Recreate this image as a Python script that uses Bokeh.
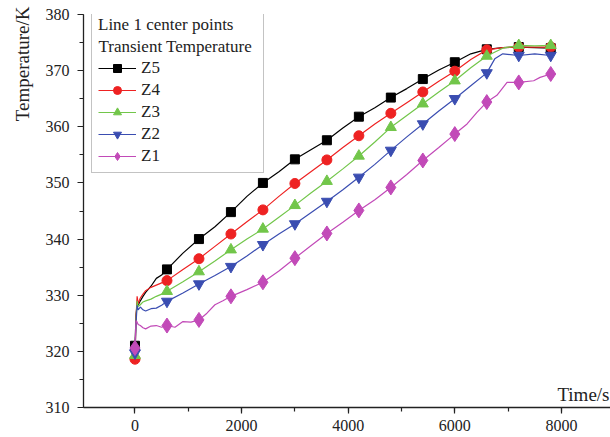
from bokeh.plotting import figure
from bokeh.models import (Legend, LegendItem, Label, Title, SingleIntervalTicker,
                          Range1d)
from bokeh.embed import file_html
from bokeh.resources import INLINE

# ---------------- data ----------------
series_names = ["Z5", "Z4", "Z3", "Z2", "Z1"]

t_line = [0, 20, 40, 60, 100, 150, 200, 300, 400, 500, 600, 900, 1200, 1500, 1800,
          2100, 2400, 2700, 3000, 3300, 3600, 3900, 4200, 4500, 4800, 5100, 5400,
          5700, 6000, 6300, 6600, 6900, 7200, 7500, 7800]

z5_line = [321.0, 326.5, 328.5, 328.2, 329.0, 329.8, 330.5, 331.6, 333.0, 333.6, 334.6,
           337.5, 340.0, 342.2, 344.8, 347.6, 350.0, 352.0, 354.2, 355.9, 357.6, 359.8,
           361.8, 363.4, 365.2, 366.8, 368.5, 370.1, 371.5, 373.0, 373.8, 374.1, 374.2,
           374.1, 374.0]
z4_line = [318.6, 326.0, 329.8, 328.5, 329.5, 330.2, 330.8, 331.4, 331.8, 332.2, 332.6,
           334.6, 336.5, 338.7, 340.9, 343.1, 345.2, 347.6, 349.9, 352.0, 354.1, 356.3,
           358.4, 360.5, 362.4, 364.3, 366.2, 368.1, 369.9, 372.0, 373.7, 374.1, 374.2,
           374.2, 374.2]
z3_line = [319.3, 325.5, 329.0, 328.0, 328.3, 328.8, 329.0, 329.3, 329.8, 330.2, 330.7,
           332.4, 334.2, 336.1, 338.1, 340.0, 341.8, 343.9, 346.0, 348.2, 350.3, 352.5,
           354.8, 357.3, 359.9, 362.0, 364.1, 366.2, 368.2, 370.5, 372.6, 374.0, 374.5,
           374.4, 374.5]
t_line_z2 = [0, 20, 40, 60, 100, 150, 200, 300, 400, 500, 600, 900, 1200, 1500, 1800,
             2100, 2400, 2700, 3000, 3300, 3600, 3900, 4200, 4500, 4800, 5100, 5400,
             5700, 6000, 6300, 6600, 6750, 6900, 7200, 7500, 7800]
z2_line = [319.7, 325.0, 328.2, 327.4, 327.9, 327.4, 327.2, 327.6, 327.7, 328.2, 328.9,
           330.4, 332.0, 333.5, 335.1, 337.0, 339.0, 340.9, 342.7, 344.7, 346.7, 348.8,
           351.0, 353.3, 355.8, 358.2, 360.5, 362.8, 365.0, 367.3, 369.6, 372.1, 373.0,
           372.7, 373.0, 372.7]
t_line_z1 = [0, 20, 40, 60, 100, 150, 200, 300, 400, 500, 600, 750, 900, 1050, 1200,
             1350, 1500, 1650, 1800, 2100, 2400, 2700, 3000, 3300, 3600, 3900, 4200,
             4500, 4800, 5100, 5400, 5700, 6000, 6230, 6420, 6600, 6790, 6980, 7200,
             7480, 7600, 7800]
z1_line = [320.6, 325.5, 325.2, 324.8, 324.6, 324.2, 324.0, 324.5, 324.6, 324.3, 324.6,
           324.3, 325.3, 325.2, 325.6, 326.8, 328.3, 329.0, 329.8, 331.0, 332.3, 334.3,
           336.6, 338.8, 341.0, 343.0, 345.1, 347.0, 349.2, 351.5, 354.0, 356.3, 358.7,
           360.5, 362.6, 364.4, 365.6, 367.9, 367.9, 368.2, 368.8, 369.4]

t_mark = [0, 600, 1200, 1800, 2400, 3000, 3600, 4200, 4800, 5400, 6000, 6600, 7200, 7800]
z5_mark = [321.0, 334.6, 340.0, 344.8, 350.0, 354.2, 357.6, 361.8, 365.2, 368.5, 371.5,
           373.8, 374.2, 374.0]
z4_mark = [318.6, 332.6, 336.5, 340.9, 345.2, 349.9, 354.1, 358.4, 362.4, 366.2, 369.9,
           373.7, 374.2, 374.2]
z3_mark = [319.3, 330.7, 334.2, 338.1, 341.8, 346.0, 350.3, 354.8, 359.9, 364.1, 368.2,
           372.6, 374.5, 374.5]
z2_mark = [319.7, 328.9, 332.0, 335.1, 339.0, 342.7, 346.7, 351.0, 355.8, 360.5, 365.0,
           369.6, 372.7, 372.7]
z1_mark = [320.6, 324.6, 325.6, 329.8, 332.3, 336.6, 341.0, 345.1, 349.2, 354.0, 358.7,
           364.4, 367.9, 369.4]

legend_title_1 = "Line 1 center points"
legend_title_2 = "Transient Temperature"
x_label = "Time/s"
y_label = "Temperature/K"

# ---------------- styles ----------------
FONT = "Liberation Serif"
colors = {"Z5": "#000000", "Z4": "#ee2222", "Z3": "#72c64a", "Z2": "#3a4db1", "Z1": "#c24ab8"}
markers = {"Z5": "square", "Z4": "circle", "Z3": "triangle", "Z2": "inverted_triangle",
           "Z1": "diamond"}
msize = {"Z5": 9, "Z4": 10, "Z3": 11, "Z2": 11, "Z1": 15}

lines = {"Z5": (t_line, z5_line), "Z4": (t_line, z4_line), "Z3": (t_line, z3_line),
         "Z2": (t_line_z2, z2_line), "Z1": (t_line_z1, z1_line)}
marks = {"Z5": z5_mark, "Z4": z4_mark, "Z3": z3_mark, "Z2": z2_mark, "Z1": z1_mark}

p = figure(width=610, height=437, output_backend="svg", toolbar_location=None,
           x_range=Range1d(-966, 8921), y_range=Range1d(310, 380),
           min_border_left=83, min_border_right=0, min_border_top=14,
           min_border_bottom=30)
p.outline_line_color = None
p.xgrid.visible = False
p.ygrid.visible = False
p.background_fill_color = "white"
p.border_fill_color = "white"

items = []
for name in series_names:
    tx, ty = lines[name]
    r1 = p.line(tx, ty, line_color=colors[name], line_width=1.2)
    r2 = p.scatter(t_mark, marks[name], marker=markers[name], size=msize[name],
                   fill_color=colors[name], line_color=colors[name])
    items.append(LegendItem(label=name, renderers=[r1, r2]))

# axes
p.xaxis.ticker = SingleIntervalTicker(interval=2000, num_minor_ticks=2)
p.yaxis.ticker = SingleIntervalTicker(interval=10, num_minor_ticks=2)
for ax in (p.xaxis[0], p.yaxis[0]):
    ax.axis_line_color = "#222222"
    ax.axis_line_width = 1.3
    ax.major_tick_line_color = "#222222"
    ax.minor_tick_line_color = "#222222"
    ax.major_tick_line_width = 1.2
    ax.minor_tick_line_width = 1.2
    ax.major_tick_out = 6
    ax.major_tick_in = 0
    ax.minor_tick_out = 4
    ax.minor_tick_in = 0
    ax.major_label_text_font = FONT
    ax.major_label_text_font_size = "16px"
    ax.major_label_text_color = "#222222"
p.yaxis.major_label_standoff = 8
p.xaxis.major_label_standoff = 6

# y label at top of left side
p.add_layout(Title(text=y_label, align="right", offset=-8, standoff=19, text_font=FONT,
                   text_font_size="19px", text_font_style="normal",
                   text_color="#222222"), "left")

# x label at right end above axis
p.add_layout(Label(x=526, y=3, x_units="screen", y_units="screen", text=x_label,
                   text_align="right", text_baseline="bottom", text_font=FONT,
                   text_font_size="19px", text_color="#222222"))

# legend: first title line is the legend's own title, second line is a label
legend = Legend(items=items, location=(8, 234), title=legend_title_1,
                title_text_font=FONT, title_text_font_size="17px",
                title_text_font_style="normal", title_text_color="#222222",
                label_text_font=FONT, label_text_font_size="17px",
                label_text_color="#222222", label_width=116,
                glyph_width=38, glyph_height=20, label_height=20, spacing=2,
                label_standoff=5, padding=6, margin=0, title_standoff=23,
                border_line_color="#888888", border_line_width=1,
                background_fill_alpha=0.0)
p.add_layout(legend)

p.add_layout(Label(x=15, y=361, x_units="screen", y_units="screen", text=legend_title_2,
                   text_align="left", text_baseline="middle", text_font=FONT,
                   text_font_size="17px", text_color="#222222"))

open("out.html", "w").write(file_html(p, INLINE))
